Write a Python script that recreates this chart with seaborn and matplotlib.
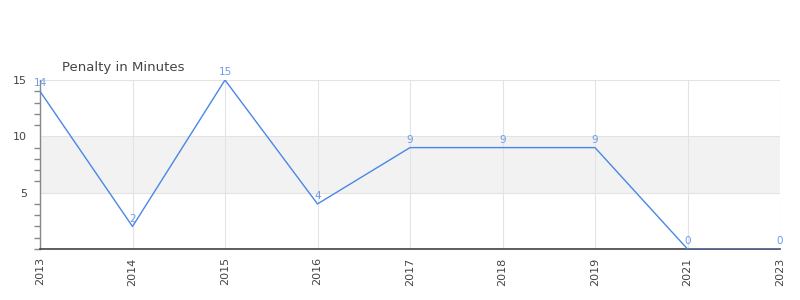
import matplotlib
matplotlib.use("Agg")
import matplotlib.pyplot as plt
import seaborn as sns
import pandas as pd
from matplotlib.ticker import MultipleLocator

years = ["2013", "2014", "2015", "2016", "2017", "2018", "2019", "2021", "2023"]
penalty = [14, 2, 15, 4, 9, 9, 9, 0, 0]
title = "Penalty in Minutes"

sns.set_style("white")
plt.rcParams['font.family'] = ['DejaVu Sans']

df = pd.DataFrame({"year": years, "penalty": penalty})

fig = plt.figure(figsize=(8, 3), dpi=100)
ax = fig.add_axes([0.05, 0.17, 0.925, 0.5633])

ax.axhspan(5, 10, color="#f2f2f2", zorder=0, lw=0)
sns.lineplot(data=df, x="year", y="penalty", ax=ax, color="#4a86e8", lw=1, zorder=3, sort=False)

for i, v in enumerate(penalty):
    ax.annotate(str(v), (i, v), xytext=(0, 2), textcoords="offset points",
                ha="center", va="bottom", fontsize=7.5, color="#6f9be8",
                annotation_clip=False, zorder=5)

ax.set_xlim(0, len(years) - 1)
ax.set_ylim(0, 15)
ax.set_yticks([5, 10, 15])
ax.yaxis.set_minor_locator(MultipleLocator(1))
ax.grid(True, which="major", color="#e3e3e3", lw=0.8)
ax.set_axisbelow(True)
ax.tick_params(axis="x", rotation=90, labelsize=8, colors="#444444", length=0, pad=6)
ax.tick_params(axis="y", which="major", labelsize=8, colors="#444444", length=6, width=1, color="#888888")
ax.tick_params(axis="y", which="minor", length=4, width=1, color="#888888", left=True)
for lbl in ax.get_yticklabels():
    lbl.set_color("#444444")
ax.set_xlabel("")
ax.set_ylabel("")

for s in ["top", "right"]:
    ax.spines[s].set_visible(False)
ax.spines["left"].set_color("#888888")
ax.spines["left"].set_linewidth(1)
ax.spines["bottom"].set_color("#444444")
ax.spines["bottom"].set_linewidth(1.2)
ax.axhline(0, color="#cc0000", lw=0.8, zorder=4)

fig.text(62 / 800, 1 - 67 / 300, title, fontsize=9.5, color="#444444", ha="left", va="center")

fig.savefig("out.png", dpi=100)
